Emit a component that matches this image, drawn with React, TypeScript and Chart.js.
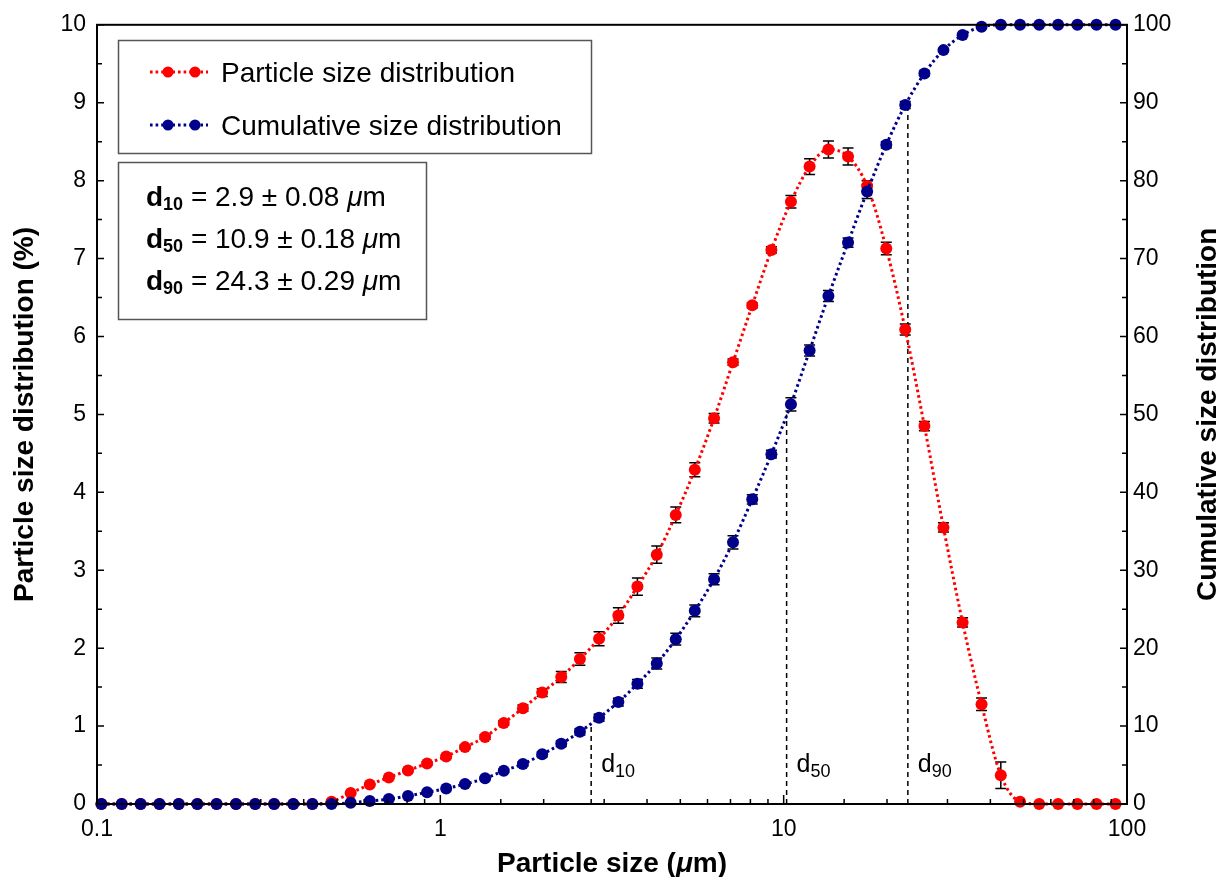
import React, { useEffect, useRef } from "react";
import { Chart, registerables } from "chart.js";

Chart.register(...registerables);

// ---------- data ----------
const particleSizes = [
  0.103, 0.118, 0.134, 0.152, 0.173, 0.196, 0.223, 0.254, 0.289, 0.328,
  0.373, 0.424, 0.482, 0.548, 0.623, 0.708, 0.805, 0.915, 1.04, 1.18,
  1.35, 1.53, 1.74, 1.98, 2.25, 2.55, 2.9, 3.3, 3.75, 4.27,
  4.85, 5.51, 6.27, 7.12, 8.1, 9.21, 10.5, 11.9, 13.5, 15.4,
  17.5, 19.9, 22.6, 25.7, 29.2, 33.2, 37.7, 42.9, 48.8, 55.5,
  63.0, 71.7, 81.5, 92.6,
];

const psdValues = [
  0, 0, 0, 0, 0, 0, 0, 0, 0, 0,
  0, 0, 0.03, 0.14, 0.25, 0.34, 0.43, 0.52, 0.61, 0.73,
  0.86, 1.04, 1.23, 1.43, 1.63, 1.86, 2.12, 2.42, 2.79, 3.2,
  3.71, 4.29, 4.95, 5.67, 6.4, 7.11, 7.73, 8.18, 8.4, 8.31,
  7.93, 7.13, 6.09, 4.85, 3.55, 2.33, 1.28, 0.37, 0.03, 0,
  0, 0, 0, 0,
];

const psdErrors = [
  0, 0, 0, 0, 0, 0, 0, 0, 0, 0,
  0, 0, 0, 0.01, 0.01, 0.01, 0.015, 0.02, 0.02, 0.025,
  0.03, 0.03, 0.04, 0.05, 0.07, 0.08, 0.09, 0.1, 0.11, 0.11,
  0.1, 0.09, 0.06, 0.04, 0.03, 0.04, 0.08, 0.1, 0.11, 0.11,
  0.07, 0.08, 0.07, 0.06, 0.06, 0.06, 0.08, 0.17, 0, 0,
  0, 0, 0, 0,
];

const cumulativeValues = [
  0, 0, 0, 0, 0, 0, 0, 0, 0, 0,
  0, 0, 0, 0.17, 0.38, 0.64, 1.03, 1.5, 1.98, 2.56,
  3.29, 4.27, 5.13, 6.37, 7.73, 9.27, 11.07, 13.08, 15.42, 18.04,
  21.15, 24.79, 28.85, 33.59, 39.1, 44.9, 51.3, 58.2, 65.2, 72.05,
  78.6, 84.6, 89.7, 93.76, 96.75, 98.68, 99.74, 100, 100, 100,
  100, 100, 100, 100,
];

const cumulativeErrors = [
  0, 0, 0, 0, 0, 0, 0, 0, 0, 0,
  0, 0, 0, 0, 0, 0, 0, 0, 0, 0.1,
  0.15, 0.2, 0.25, 0.3, 0.35, 0.4, 0.45, 0.5, 0.55, 0.7,
  0.75, 0.75, 0.7, 0.85, 0.6, 0.5, 0.85, 0.7, 0.7, 0.6,
  0.9, 0.4, 0.45, 0.3, 0.2, 0, 0, 0, 0, 0,
  0, 0, 0, 0,
];

const xTickLabels = [0.1, 1, 10, 100];

const dSubscripts = ["10", "50", "90"];
const dSizes = [2.75, 10.2, 23.0];
const dCumulative = [10, 50, 90];

const statValues = ["2.9", "10.9", "24.3"];
const statErrors = ["0.08", "0.18", "0.29"];

const seriesNames = ["Particle size distribution", "Cumulative size distribution"];

// ---------- styles ----------
const FONT = '"Liberation Sans", Arial, Helvetica, sans-serif';
const RED = "#ff0000";
const BLUE = "#00008b";
const DOT_DASH = [2.6, 3];

type Seg = { text: string; font: string; dy?: number };

function segWidth(ctx: CanvasRenderingContext2D, segs: Seg[]) {
  let w = 0;
  for (const s of segs) {
    ctx.font = s.font;
    w += ctx.measureText(s.text).width;
  }
  return w;
}

function drawSegs(
  ctx: CanvasRenderingContext2D,
  segs: Seg[],
  x: number,
  y: number,
  align: "left" | "center"
) {
  const total = segWidth(ctx, segs);
  let cx = align === "center" ? x - total / 2 : x;
  ctx.textAlign = "left";
  ctx.textBaseline = "alphabetic";
  for (const s of segs) {
    ctx.font = s.font;
    ctx.fillText(s.text, cx, y + (s.dy || 0));
    cx += ctx.measureText(s.text).width;
  }
}

const overlayPlugin = {
  id: "overlayPlugin",
  beforeDatasetsDraw(chart: any) {
    const ctx: CanvasRenderingContext2D = chart.ctx;
    const xs = chart.scales.x;
    const yl = chart.scales.y;
    const yr = chart.scales.y2;

    // dashed d-lines
    ctx.save();
    ctx.strokeStyle = "#000";
    ctx.lineWidth = 1.5;
    ctx.setLineDash([5, 4]);
    dSizes.forEach((s, i) => {
      const px = xs.getPixelForValue(s);
      ctx.beginPath();
      ctx.moveTo(px, yr.getPixelForValue(0));
      ctx.lineTo(px, yr.getPixelForValue(dCumulative[i]));
      ctx.stroke();
    });
    ctx.restore();

    // error bars
    const drawErr = (vals: number[], errs: number[], sc: any) => {
      ctx.save();
      ctx.strokeStyle = "#000";
      ctx.lineWidth = 1.5;
      vals.forEach((v, i) => {
        const e = errs[i];
        if (!e) return;
        const px = xs.getPixelForValue(particleSizes[i]);
        const t = sc.getPixelForValue(v + e);
        const b = sc.getPixelForValue(v - e);
        ctx.beginPath();
        ctx.moveTo(px, t);
        ctx.lineTo(px, b);
        ctx.moveTo(px - 5.5, t);
        ctx.lineTo(px + 5.5, t);
        ctx.moveTo(px - 5.5, b);
        ctx.lineTo(px + 5.5, b);
        ctx.stroke();
      });
      ctx.restore();
    };
    drawErr(psdValues, psdErrors, yl);
    drawErr(cumulativeValues, cumulativeErrors, yr);
  },
  afterDraw(chart: any) {
    const ctx: CanvasRenderingContext2D = chart.ctx;
    const area = chart.chartArea;
    const xs = chart.scales.x;
    const yl = chart.scales.y;
    const yr = chart.scales.y2;
    ctx.save();

    // frame
    ctx.strokeStyle = "#000";
    ctx.lineWidth = 2;
    ctx.setLineDash([]);
    ctx.strokeRect(area.left, area.top, area.right - area.left, area.bottom - area.top);

    // inward ticks
    ctx.lineWidth = 1.5;
    ctx.beginPath();
    xs.ticks.forEach((t: any) => {
      const v = t.value;
      const px = xs.getPixelForValue(v);
      const lg = Math.log10(v);
      const major = Math.abs(lg - Math.round(lg)) < 1e-6;
      const len = major ? 9 : 5;
      ctx.moveTo(px, area.bottom);
      ctx.lineTo(px, area.bottom - len);
    });
    for (let v = 0; v <= 10.0001; v += 0.5) {
      const py = yl.getPixelForValue(v);
      const major = Math.abs(v - Math.round(v)) < 1e-6;
      ctx.moveTo(area.left, py);
      ctx.lineTo(area.left + (major ? 7 : 5), py);
    }
    for (let v = 0; v <= 100.0001; v += 5) {
      const py = yr.getPixelForValue(v);
      const major = v % 10 === 0;
      ctx.moveTo(area.right, py);
      ctx.lineTo(area.right - (major ? 7 : 5), py);
    }
    ctx.stroke();

    ctx.fillStyle = "#000";

    // axis titles
    const titleB = `bold 28px ${FONT}`;
    const titleBI = `italic bold 28px ${FONT}`;
    drawSegs(
      ctx,
      [
        { text: "Particle size (", font: titleB },
        { text: "\u03bc", font: titleBI },
        { text: "m)", font: titleB },
      ],
      (area.left + area.right) / 2,
      872,
      "center"
    );
    const midY = (area.top + area.bottom) / 2;
    ctx.save();
    ctx.translate(33, midY);
    ctx.rotate(-Math.PI / 2);
    drawSegs(ctx, [{ text: "Particle size distribution (%)", font: titleB }], 0, 0, "center");
    ctx.restore();
    ctx.save();
    ctx.translate(1216, midY);
    ctx.rotate(-Math.PI / 2);
    drawSegs(ctx, [{ text: "Cumulative size distribution", font: titleB }], 0, 0, "center");
    ctx.restore();

    // d labels
    dSubscripts.forEach((sub, i) => {
      const px = xs.getPixelForValue(dSizes[i]);
      drawSegs(
        ctx,
        [
          { text: "d", font: `25px ${FONT}` },
          { text: sub, font: `18px ${FONT}`, dy: 5 },
        ],
        px + 10,
        area.bottom - 32,
        "left"
      );
    });

    // legend box
    ctx.strokeStyle = "#555";
    ctx.lineWidth = 1.5;
    ctx.strokeRect(118.5, 40.5, 473, 113);
    const legendY = [72, 125];
    const legendColors = [RED, BLUE];
    seriesNames.forEach((name, i) => {
      const y = legendY[i];
      ctx.save();
      ctx.strokeStyle = legendColors[i];
      ctx.lineWidth = 2.8;
      ctx.setLineDash(DOT_DASH);
      ctx.beginPath();
      ctx.moveTo(150, y);
      ctx.lineTo(208, y);
      ctx.stroke();
      ctx.setLineDash([]);
      ctx.fillStyle = legendColors[i];
      [168, 195].forEach((cx) => {
        ctx.beginPath();
        ctx.arc(cx, y, 5.5, 0, Math.PI * 2);
        ctx.fill();
      });
      ctx.restore();
      drawSegs(ctx, [{ text: name, font: `28px ${FONT}` }], 221, y + 9.5, "left");
    });

    // stats box
    ctx.strokeStyle = "#555";
    ctx.strokeRect(118.5, 162.5, 308, 157);
    const statBase = [206, 248, 290];
    dSubscripts.forEach((sub, i) => {
      drawSegs(
        ctx,
        [
          { text: "d", font: `bold 28px ${FONT}` },
          { text: sub, font: `bold 18px ${FONT}`, dy: 4 },
          { text: ` = ${statValues[i]} \u00b1 ${statErrors[i]} `, font: `28px ${FONT}` },
          { text: "\u03bc", font: `italic 28px ${FONT}` },
          { text: "m", font: `28px ${FONT}` },
        ],
        146,
        statBase[i],
        "left"
      );
    });

    ctx.restore();
  },
};

export default function App() {
  const canvasRef = useRef<HTMLCanvasElement | null>(null);

  useEffect(() => {
    if (!canvasRef.current) return;
    Chart.defaults.font.family = FONT;
    Chart.defaults.color = "#000";

    const psdData = particleSizes.map((x, i) => ({ x, y: psdValues[i] }));
    const cumData = particleSizes.map((x, i) => ({ x, y: cumulativeValues[i] }));

    const chart = new Chart(canvasRef.current, {
      type: "line",
      data: {
        datasets: [
          {
            label: seriesNames[0],
            data: psdData,
            yAxisID: "y",
            borderColor: RED,
            backgroundColor: RED,
            borderWidth: 3,
            borderDash: DOT_DASH,
            pointRadius: 6,
            pointBorderWidth: 0,
            pointBackgroundColor: RED,
            cubicInterpolationMode: "monotone",
            fill: false,
            clip: false,
            order: 2,
          },
          {
            label: seriesNames[1],
            data: cumData,
            yAxisID: "y2",
            borderColor: BLUE,
            backgroundColor: BLUE,
            borderWidth: 3,
            borderDash: DOT_DASH,
            pointRadius: 6,
            pointBorderWidth: 0,
            pointBackgroundColor: BLUE,
            cubicInterpolationMode: "monotone",
            fill: false,
            clip: false,
            order: 1,
          },
        ],
      },
      options: {
        responsive: false,
        animation: false,
        devicePixelRatio: 1,
        layout: { padding: { top: 24, left: 0, right: 0, bottom: 0 } },
        plugins: {
          legend: { display: false },
          tooltip: { enabled: false },
        },
        scales: {
          x: {
            type: "logarithmic",
            min: 0.1,
            max: 100,
            grid: { display: false, drawTicks: false },
            border: { display: false },
            ticks: {
              autoSkip: false,
              maxRotation: 0,
              padding: 12,
              font: { size: 23, family: FONT },
              color: "#000",
              callback: (v: any) => {
                const val = Number(v);
                const m = xTickLabels.find((t) => Math.abs(t - val) / t < 1e-6);
                return m !== undefined ? String(m) : "";
              },
            },
            afterFit: (s: any) => {
              s.height = 73;
            },
          },
          y: {
            type: "linear",
            position: "left",
            min: 0,
            max: 10,
            grid: { display: false, drawTicks: false },
            border: { display: false },
            ticks: {
              stepSize: 1,
              padding: 11,
              font: { size: 23, family: FONT },
              color: "#000",
            },
            afterFit: (s: any) => {
              s.width = 97;
            },
          },
          y2: {
            type: "linear",
            position: "right",
            min: 0,
            max: 100,
            grid: { display: false, drawTicks: false },
            border: { display: false },
            ticks: {
              stepSize: 10,
              padding: 6,
              font: { size: 23, family: FONT },
              color: "#000",
            },
            afterFit: (s: any) => {
              s.width = 94;
            },
          },
        },
      },
      plugins: [overlayPlugin],
    } as any);

    return () => {
      chart.destroy();
    };
  }, []);

  return (
    <div style={{ position: "absolute", left: 0, top: 0, width: 1221, height: 877, background: "#fff" }}>
      <canvas ref={canvasRef} width={1221} height={877} />
    </div>
  );
}
